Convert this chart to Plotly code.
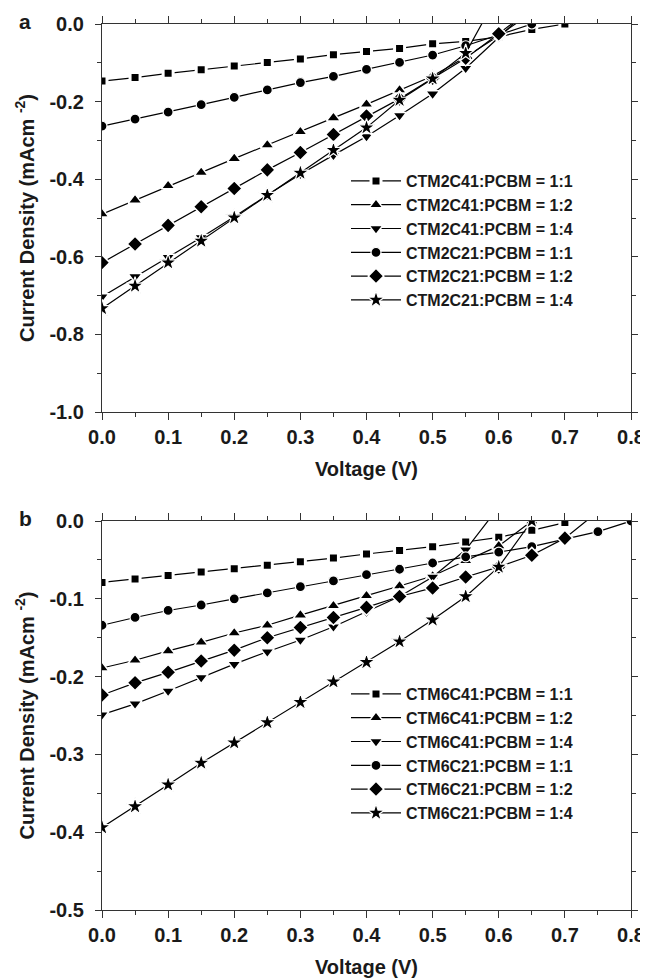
import plotly.graph_objects as go

# ---------------- data ----------------
voltage_a = [0.0, 0.05, 0.10, 0.15, 0.20, 0.25, 0.30, 0.35, 0.40, 0.45, 0.50, 0.55, 0.60, 0.65, 0.70]
ctm2c41_11 = [-0.147, -0.138, -0.127, -0.118, -0.108, -0.099, -0.090, -0.079, -0.071, -0.063, -0.051, -0.045, -0.033, -0.014, 0.0]
ctm2c41_12 = [-0.490, -0.454, -0.417, -0.383, -0.347, -0.312, -0.278, -0.242, -0.207, -0.170, -0.134, -0.085, -0.030, 0.030]
ctm2c41_14 = [-0.703, -0.651, -0.601, -0.550, -0.497, -0.441, -0.387, -0.338, -0.290, -0.236, -0.180, -0.114, -0.035, 0.045]
ctm2c21_11 = [-0.263, -0.245, -0.227, -0.208, -0.189, -0.170, -0.151, -0.135, -0.117, -0.099, -0.080, -0.056, -0.028, 0.0]
ctm2c21_12 = [-0.615, -0.567, -0.519, -0.471, -0.424, -0.376, -0.331, -0.285, -0.237, -0.193, -0.140, -0.088, -0.025, 0.040]
ctm2c21_14 = [-0.733, -0.675, -0.615, -0.559, -0.499, -0.441, -0.384, -0.325, -0.267, -0.196, -0.141, -0.075, 0.080]

voltage_b = [0.0, 0.05, 0.10, 0.15, 0.20, 0.25, 0.30, 0.35, 0.40, 0.45, 0.50, 0.55, 0.60, 0.65, 0.70, 0.75, 0.80]
ctm6c41_11 = [-0.079, -0.0746, -0.070, -0.0656, -0.0613, -0.057, -0.0523, -0.0476, -0.0424, -0.038, -0.033, -0.027, -0.021, -0.012, -0.002]
ctm6c41_12 = [-0.189, -0.179, -0.167, -0.156, -0.144, -0.134, -0.121, -0.109, -0.096, -0.0836, -0.0707, -0.051, -0.032, 0.0]
ctm6c41_14 = [-0.249, -0.235, -0.2185, -0.201, -0.184, -0.168, -0.153, -0.136, -0.117, -0.097, -0.072, -0.037, 0.018]
ctm6c21_11 = [-0.134, -0.124, -0.115, -0.108, -0.100, -0.0925, -0.0844, -0.077, -0.069, -0.062, -0.054, -0.046, -0.040, -0.033, -0.023, -0.0137, 0.0]
ctm6c21_12 = [-0.2237, -0.208, -0.1945, -0.180, -0.166, -0.150, -0.137, -0.124, -0.111, -0.097, -0.086, -0.072, -0.059, -0.044, -0.022, 0.012]
ctm6c21_14 = [-0.394, -0.367, -0.339, -0.311, -0.285, -0.259, -0.233, -0.2066, -0.1816, -0.155, -0.127, -0.097, -0.059, 0.0]

names_a = ["CTM2C41:PCBM = 1:1", "CTM2C41:PCBM = 1:2", "CTM2C41:PCBM = 1:4",
           "CTM2C21:PCBM = 1:1", "CTM2C21:PCBM = 1:2", "CTM2C21:PCBM = 1:4"]
names_b = ["CTM6C41:PCBM = 1:1", "CTM6C41:PCBM = 1:2", "CTM6C41:PCBM = 1:4",
           "CTM6C21:PCBM = 1:1", "CTM6C21:PCBM = 1:2", "CTM6C21:PCBM = 1:4"]

x_ticks = [0.0, 0.1, 0.2, 0.3, 0.4, 0.5, 0.6, 0.7, 0.8]
x_tick_labels = ["0.0", "0.1", "0.2", "0.3", "0.4", "0.5", "0.6", "0.7", "0.8"]
ya_ticks = [0.0, -0.2, -0.4, -0.6, -0.8, -1.0]
ya_tick_labels = ["0.0", "-0.2", "-0.4", "-0.6", "-0.8", "-1.0"]
yb_ticks = [0.0, -0.1, -0.2, -0.3, -0.4, -0.5]
yb_tick_labels = ["0.0", "-0.1", "-0.2", "-0.3", "-0.4", "-0.5"]

# ---------------- styling ----------------
FONT = "Liberation Sans, Arial, sans-serif"
TXT = "#1a1a1a"
symbols = ["square", "triangle-up", "triangle-down", "circle", "diamond", "star"]
sizes = [10, 12, 12, 10, 12, 13]
rings = [3.0, 1.5, 1.5, 1.2, 1.5, 1.2]

fig = go.Figure()

series_a = [ctm2c41_11, ctm2c41_12, ctm2c41_14, ctm2c21_11, ctm2c21_12, ctm2c21_14]
series_b = [ctm6c41_11, ctm6c41_12, ctm6c41_14, ctm6c21_11, ctm6c21_12, ctm6c21_14]

for i, (ys, nm) in enumerate(zip(series_a, names_a)):
    fig.add_trace(go.Scatter(
        x=voltage_a[:len(ys)], y=ys, name=nm, mode="lines+markers",
        xaxis="x", yaxis="y", legend="legend",
        line=dict(color="black", width=1.2),
        marker=dict(symbol=symbols[i], size=sizes[i], color="black",
                    line=dict(color="white", width=rings[i])),
    ))

for i, (ys, nm) in enumerate(zip(series_b, names_b)):
    fig.add_trace(go.Scatter(
        x=voltage_b[:len(ys)], y=ys, name=nm, mode="lines+markers",
        xaxis="x2", yaxis="y2", legend="legend2",
        line=dict(color="black", width=1.2),
        marker=dict(symbol=symbols[i], size=sizes[i], color="black",
                    line=dict(color="white", width=rings[i])),
    ))

# page has an 8px body margin; figure sized to fit the window
OFF = 8
W, H = 648 - OFF, 979 - OFF

def px(xp):
    return (xp - OFF) / W

def py(yp):
    return 1 - (yp - OFF) / H

xdom = [px(102), px(631)]
ydom_a = [py(412), py(24)]
ydom_b = [py(910), py(521)]

tickfont = dict(family=FONT, size=20, color=TXT, weight="bold")
titlefont = dict(family=FONT, size=20, color=TXT, weight="bold")

def xaxis(domain, anchor):
    return dict(domain=domain, anchor=anchor, range=[0, 0.8],
                tickvals=x_ticks, ticktext=x_tick_labels,
                ticks="outside", ticklen=7, tickwidth=1.2, tickcolor="#333",
                minor=dict(dtick=0.05, tick0=0, ticks="outside", ticklen=4, tickwidth=1.2, tickcolor="#333"),
                showline=True, linecolor="#333", linewidth=1.3, mirror="ticks",
                showgrid=False, zeroline=False, tickfont=tickfont,
                ticklabelstandoff=0,
                title=dict(text="Voltage (V)", font=titlefont, standoff=14),
                automargin=False)

def yaxis(domain, anchor, rng, tv, tt, minor_dtick):
    return dict(domain=domain, anchor=anchor, range=rng,
                tickvals=tv, ticktext=tt,
                ticks="outside", ticklen=6, tickwidth=1.2, tickcolor="#333",
                minor=dict(dtick=minor_dtick, tick0=0, ticks="outside", ticklen=4, tickwidth=1.2, tickcolor="#333"),
                showline=True, linecolor="#333", linewidth=1.3, mirror="ticks",
                showgrid=False, zeroline=False, tickfont=tickfont,
                ticklabelstandoff=7,
                title=dict(text="Current Density (mAcm <sup>-2</sup>)", font=titlefont, standoff=9),
                automargin=False)

legend_font = dict(family=FONT, size=16, color=TXT, weight="bold")

fig.update_layout(
    width=W, height=H,
    margin=dict(l=0, r=0, t=0, b=0),
    paper_bgcolor="white", plot_bgcolor="white",
    font=dict(family=FONT, color=TXT),
    xaxis=xaxis(xdom, "y"),
    yaxis=yaxis(ydom_a, "x", [-1.0, 0.0], ya_ticks, ya_tick_labels, 0.1),
    xaxis2=xaxis(xdom, "y2"),
    yaxis2=yaxis(ydom_b, "x2", [-0.5, 0.0], yb_ticks, yb_tick_labels, 0.05),
    legend=dict(x=px(346), y=py(164), xanchor="left", yanchor="top",
                font=legend_font, bgcolor="rgba(0,0,0,0)", borderwidth=0,
                tracegroupgap=0, itemwidth=50),
    legend2=dict(x=px(346), y=py(677), xanchor="left", yanchor="top",
                 font=legend_font, bgcolor="rgba(0,0,0,0)", borderwidth=0,
                 tracegroupgap=0, itemwidth=50),
    showlegend=True,
    annotations=[
        dict(text="a", x=px(25), y=py(22), xref="paper", yref="paper",
             showarrow=False, xanchor="center", yanchor="middle",
             font=dict(family=FONT, size=21, color=TXT, weight="bold")),
        dict(text="b", x=px(25), y=py(518), xref="paper", yref="paper",
             showarrow=False, xanchor="center", yanchor="middle",
             font=dict(family=FONT, size=21, color=TXT, weight="bold")),
    ],
)

fig.write_html("out.html")
